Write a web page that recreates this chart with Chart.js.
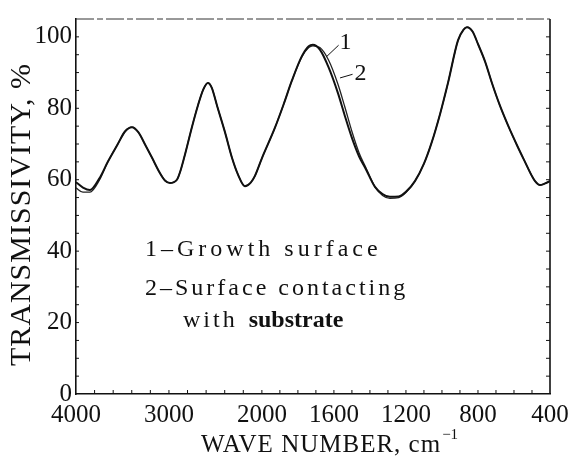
<!DOCTYPE html>
<html>
<head>
<meta charset="utf-8">
<script src="https://cdn.jsdelivr.net/npm/chart.js@4.4.1/dist/chart.umd.min.js"></script>
<style>
  html, body { margin: 0; padding: 0; background: #fff; }
</style>
</head>
<body>
<canvas id="myChart" width="584" height="465"></canvas>
<script>
// wave numbers, cm-1
const waveNumbers = [4000, 3925, 3850, 3750, 3656, 3550, 3473, 3398, 3330, 3250, 3183, 3100, 3043, 2989, 2914, 2870, 2828, 2750, 2688, 2630, 2581, 2540, 2480, 2398, 2320, 2258, 2183, 2120, 2076, 2000, 1928, 1880, 1833, 1778, 1740, 1717, 1678, 1630, 1578, 1540, 1500, 1460, 1428, 1372, 1330, 1289, 1240, 1200, 1150, 1100, 1056, 1010, 967, 911, 880, 861, 830, 800, 760, 722, 680, 633, 580, 539, 500, 483, 456, 430, 400];
// 1 - growth surface
const growthSurface = [59.3, 57.8, 57.1, 60.3, 65.1, 70, 73.5, 74.7, 73.3, 69.5, 66.2, 62, 59.8, 59.1, 60, 63, 67, 75, 80.8, 85.3, 87.1, 85.8, 80.5, 73.4, 66, 61.5, 58.2, 59.2, 61, 66, 74.5, 81, 87.8, 94.6, 97.4, 97.8, 96.4, 91.5, 84.3, 78, 71.7, 66.5, 63.5, 58, 56, 55.2, 55.3, 56.6, 59.6, 64.5, 70.6, 78.5, 87, 99, 102, 102.7, 101.5, 98, 93, 87, 81, 75.2, 69.3, 65, 61, 59.6, 58.5, 58.9, 59.6];
// 2 - surface contacting with substrate
const substrateSurface = [57.7, 56.5, 56.5, 59.8, 65.1, 70, 73.5, 74.7, 73.3, 69.5, 66.2, 62, 59.8, 59.1, 60, 63, 67, 75, 80.8, 85.3, 87.1, 85.8, 80.5, 73.4, 66, 61.5, 58.2, 59.2, 61, 66, 74.5, 81, 87.8, 94.4, 97, 97.5, 97, 93.5, 86.8, 80.5, 73.5, 67.5, 64, 58, 55.6, 54.8, 55, 56.4, 59.6, 64.5, 70.6, 78.5, 87, 99, 102, 102.7, 101.5, 98, 93, 87, 81, 75.2, 69.3, 65, 61, 59.6, 58.5, 58.9, 59.6];
const xTickLabels = [4000, 3000, 2000, 1600, 1200, 800, 400];
const yTickLabels = [0, 20, 40, 60, 80, 100];

const serif = '"Liberation Serif", "DejaVu Serif", serif';

// spectrometer chart: scale changes at 2000 cm-1, the low part is stretched
function axisPos(w) {
    return w >= 2000 ? (4000 - w) / 2000 : 1 + (2000 - w) / 1600 * 1.55;
}

function toPoints(values) {
    return waveNumbers.map((w, i) => ({ x: axisPos(w), y: values[i] }));
}

const framePlugin = {
    id: 'frame',
    afterDraw(chart) {
        const c = chart.ctx;
        const a = chart.chartArea;
        const xs = chart.scales.x;
        const ys = chart.scales.y;
        c.save();
        c.strokeStyle = '#111';
        c.fillStyle = '#111';

        // right border
        c.lineWidth = 1.6;
        c.beginPath();
        c.moveTo(a.right, a.top);
        c.lineTo(a.right, a.bottom);
        c.stroke();
        // top border, broken as on the scan
        c.lineWidth = 1;
        c.strokeStyle = '#333';
        c.setLineDash([18, 3, 6, 3]);
        c.beginPath();
        c.moveTo(a.left, a.top);
        c.lineTo(a.right, a.top);
        c.stroke();
        c.setLineDash([]);
        c.strokeStyle = '#111';

        // small inward ticks
        c.lineWidth = 1;
        c.beginPath();
        for (let v = 5; v < 105; v += 5) {
            const y = ys.getPixelForValue(v);
            c.moveTo(a.left, y); c.lineTo(a.left + 3, y);
            c.moveTo(a.right, y); c.lineTo(a.right - 4, y);
        }
        for (let w = 3800; w > 2000; w -= 200) {
            const x = xs.getPixelForValue(axisPos(w));
            c.moveTo(x, a.bottom); c.lineTo(x, a.bottom - 4);
        }
        for (let w = 2000; w > 400; w -= 100) {
            const x = xs.getPixelForValue(axisPos(w));
            c.moveTo(x, a.bottom); c.lineTo(x, a.bottom - 4);
        }
        c.stroke();

        // curve labels 1 and 2 with leaders
        c.font = '24px ' + serif;
        c.textAlign = 'center';
        c.textBaseline = 'middle';
        const l1 = { x: xs.getPixelForValue(axisPos(1535)), y: ys.getPixelForValue(98.5) };
        const l2 = { x: xs.getPixelForValue(axisPos(1452)), y: ys.getPixelForValue(89.8) };
        c.fillText('1', l1.x, l1.y);
        c.fillText('2', l2.x, l2.y);
        c.beginPath();
        c.moveTo(xs.getPixelForValue(axisPos(1640)), ys.getPixelForValue(94.5));
        c.lineTo(l1.x - 7, l1.y + 3);
        c.moveTo(xs.getPixelForValue(axisPos(1566)), ys.getPixelForValue(88.5));
        c.lineTo(l2.x - 8, l2.y + 1);
        c.stroke();

        // legend text
        c.textAlign = 'left';
        c.textBaseline = 'alphabetic';
        c.letterSpacing = '4px';
        c.fillText('1\u2013Growth surface', a.left + 69, 256);
        c.letterSpacing = '3px';
        c.fillText('2\u2013Surface contacting', a.left + 69, 295);
        c.fillText('with ', a.left + 107, 327);
        const wWith = c.measureText('with ').width;
        c.letterSpacing = '0px';
        c.font = 'bold 24px ' + serif;
        c.fillText('substrate', a.left + 107 + wWith + 2, 327);

        // axis titles
        c.font = '30px ' + serif;
        c.letterSpacing = '1px';
        c.textAlign = 'center';
        c.textBaseline = 'middle';
        c.save();
        c.translate(22, (a.top + a.bottom) / 2 + 8);
        c.rotate(-Math.PI / 2);
        c.fillText('TRANSMISSIVITY, %', 0, 0);
        c.restore();

        c.font = '25px ' + serif;
        c.textAlign = 'left';
        c.textBaseline = 'alphabetic';
        const main = 'WAVE NUMBER, cm';
        const mw = c.measureText(main).width;
        c.font = '15px ' + serif;
        c.letterSpacing = '0px';
        const sup = '\u22121';
        const sw = c.measureText(sup).width;
        const x0 = (a.left + a.right) / 2 + 16 - (mw + sw) / 2;
        c.font = '25px ' + serif;
        c.letterSpacing = '1px';
        c.fillText(main, x0, 452);
        c.font = '15px ' + serif;
        c.letterSpacing = '0px';
        c.fillText(sup, x0 + mw + 1, 439);
        c.restore();
    }
};

const ctx = document.getElementById('myChart').getContext('2d');
new Chart(ctx, {
    type: 'line',
    data: {
        datasets: [{
            label: '1',
            data: toPoints(growthSurface),
            borderColor: '#111',
            borderWidth: 2,
            pointRadius: 0,
            cubicInterpolationMode: 'monotone'
        }, {
            label: '2',
            data: toPoints(substrateSurface),
            borderColor: '#222',
            borderWidth: 1.3,
            pointRadius: 0,
            cubicInterpolationMode: 'monotone'
        }]
    },
    options: {
        responsive: false,
        animation: false,
        layout: { padding: { left: 0, right: 34, top: 13, bottom: 0 } },
        plugins: { legend: { display: false }, tooltip: { enabled: false } },
        scales: {
            x: {
                type: 'linear',
                min: 0,
                max: axisPos(400),
                grid: { display: false, drawTicks: false },
                border: { display: true, color: '#111', width: 1.6 },
                ticks: {
                    autoSkip: false,
                    maxRotation: 0,
                    padding: 6,
                    color: '#111',
                    font: { family: serif, size: 25 },
                    callback: (v, i) => xTickLabels[i]
                },
                afterBuildTicks: axis => {
                    axis.ticks = xTickLabels.map(w => ({ value: axisPos(w) }));
                },
                afterFit: s => { s.height = 71; }
            },
            y: {
                min: 0,
                max: 105,
                grid: { display: false, drawTicks: false },
                border: { display: true, color: '#111', width: 1.6 },
                ticks: {
                    padding: 4,
                    color: '#111',
                    font: { family: serif, size: 25 }
                },
                afterBuildTicks: axis => {
                    axis.ticks = yTickLabels.map(v => ({ value: v }));
                },
                afterFit: s => { s.width = 76; }
            }
        }
    },
    plugins: [framePlugin]
});
</script>
</body>
</html>
